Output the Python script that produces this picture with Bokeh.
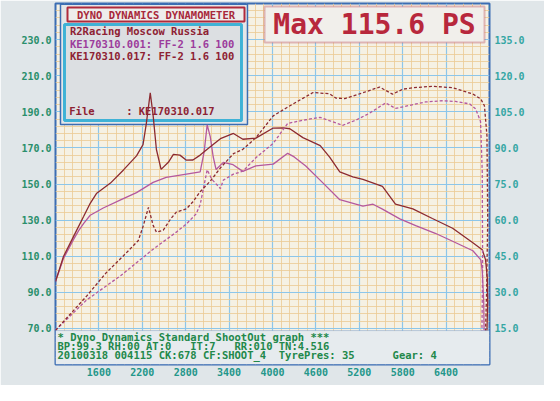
from bokeh.plotting import figure
from bokeh.models import Range1d, LinearAxis, FixedTicker, Label, BoxAnnotation, PrintfTickFormatter
from bokeh.embed import file_html
from bokeh.resources import INLINE

# ---------------- data ----------------
rpm_tq_017 = [1000, 1110, 1250, 1390, 1480, 1570, 1760, 1940, 2120, 2210, 2255, 2310, 2350, 2395, 2460,
              2560, 2630, 2720, 2810, 2900, 3000, 3140, 3280, 3460, 3590, 3770, 4010, 4150, 4240, 4420,
              4660, 4790, 4930, 5110, 5250, 5520, 5700, 5940, 6210, 6490, 6770, 6900, 6945, 6970, 6975, 6965]
tq_017 = [96.0, 109.8, 121.0, 132.1, 139.3, 144.9, 150.5, 157.8, 165.6, 171.8, 183.3, 200.5, 187.9, 169.1, 158.1,
          162.0, 166.4, 166.0, 163.2, 163.3, 166.0, 170.6, 175.1, 178.0, 174.8, 175.4, 181.0, 181.1, 180.6, 175.7,
          171.3, 164.9, 156.7, 154.0, 152.5, 148.7, 138.9, 136.2, 130.9, 125.5, 117.4, 113.6, 108.1, 98.0, 85.0, 68.5]

rpm_tq_001 = [1000, 1110, 1250, 1320, 1390, 1480, 1660, 1900, 2120, 2350, 2530, 2810, 3000, 3055, 3097,
              3140, 3180, 3220, 3320, 3455, 3590, 3770, 4010, 4210, 4300, 4460, 4700, 4930, 5250, 5390,
              5520, 5760, 5980, 6250, 6490, 6770, 6880, 6900, 6920, 6925]
tq_001 = [96.0, 108.7, 119.3, 124.2, 128.2, 132.7, 136.7, 141.2, 145.2, 150.9, 153.7, 155.5, 156.7, 167.8, 182.8,
          176.1, 165.1, 158.0, 162.0, 160.7, 157.0, 160.0, 161.0, 167.0, 165.0, 160.0, 150.5, 141.3, 137.7, 138.8,
          136.1, 130.7, 126.9, 122.7, 118.3, 113.0, 108.0, 102.0, 85.0, 68.5]

rpm_ps_017 = [1000, 1430, 1700, 1940, 2145, 2215, 2285, 2350, 2395, 2490, 2590, 2670, 2810, 2900, 3000,
              3140, 3280, 3460, 3590, 3770, 4010, 4190, 4420, 4560, 4790, 4875, 5000, 5250, 5480, 5660,
              5800, 5940, 6210, 6490, 6770, 6880, 6930, 6965, 6975, 6960, 6945]
ps_017 = [14.2, 28.4, 38.1, 45.2, 51.5, 57.8, 65.3, 57.8, 55.0, 55.8, 60.4, 63.3, 64.7, 67.6, 71.8,
          76.2, 81.7, 87.6, 89.4, 94.2, 103.3, 106.6, 110.6, 113.0, 112.5, 110.7, 110.5, 112.9, 115.3, 112.3,
          114.4, 115.0, 115.6, 115.0, 112.4, 110.3, 107.5, 95.0, 60.0, 30.0, 13.5]

rpm_ps_001 = [1000, 1430, 1900, 2350, 2670, 2810, 2945, 3000, 3097, 3160, 3280, 3320, 3460, 3590, 3770,
              4010, 4210, 4460, 4655, 4970, 5150, 5340, 5565, 5700, 6117, 6352, 6531, 6724, 6807, 6876,
              6900, 6905, 6895]
ps_001 = [14.2, 26.8, 36.9, 47.9, 55.0, 58.4, 62.6, 66.4, 80.9, 77.0, 73.1, 76.6, 79.1, 80.3, 85.9,
          91.9, 100.2, 101.7, 102.7, 99.4, 101.5, 104.4, 108.7, 106.4, 109.1, 109.6, 109.3, 108.3, 106.3, 101.0,
          80.0, 40.0, 13.5]

x_ticks = [1600, 2200, 2800, 3400, 4000, 4600, 5200, 5800, 6400]
nm_ticks = [70, 90, 110, 130, 150, 170, 190, 210, 230]
ps_ticks = [15, 30, 45, 60, 75, 90, 105, 120, 135]

title_text = "Max 115.6 PS"
header_text = "DYNO DYNAMICS DYNAMOMETER"
legend_lines = ["R2Racing Moscow Russia", "KE170310.001: FF-2 1.6 100", "KE170310.017: FF-2 1.6 100"]
file_line = "File     : KE170310.017"
footer_lines = ["* Dyno Dynamics Standard ShootOut graph ***",
                "BP:99.3 RH:00 AT:0   IT:7   RR:010 TN:4.516",
                "20100318 004115 CK:678 CF:SHOOT_4  TyrePres: 35      Gear: 4"]

# ---------------- styling ----------------
DARK = "#8c2a30"
PURP = "#b4589e"
GRID_MAJ = "#8cc6ea"
GRID_MIN = "#ebcb94"
FRAME = "#3b6db3"
MONO = "DejaVu Sans Mono"


def nb(s):
    return s.replace(" ", "\u00a0")


p = figure(width=544, height=385, output_backend="svg", toolbar_location=None,
           x_range=Range1d(1000, 7000), y_range=Range1d(50, 250),
           min_border_left=55, min_border_right=55, min_border_top=3, min_border_bottom=21)
p.extra_y_ranges = {"ps": Range1d(0, 150)}

p.background_fill_color = "#f5f1e4"
p.border_fill_color = "#e0e6e9"
p.outline_line_color = FRAME
p.outline_line_width = 2

# grids
xg = p.xgrid[0]
xg.ticker = FixedTicker(ticks=list(range(1000, 7001, 600)),
                        minor_ticks=[v for v in range(1000, 7001, 120) if (v - 1000) % 600 != 0])
xg.grid_line_color = GRID_MAJ
xg.grid_line_width = 1.2
xg.minor_grid_line_color = GRID_MIN
xg.minor_grid_line_width = 1
xg.minor_grid_line_alpha = 0.8
yg = p.ygrid[0]
yg.ticker = FixedTicker(ticks=list(range(50, 251, 20)),
                        minor_ticks=[v for v in range(50, 251, 4) if (v - 50) % 20 != 0])
yg.grid_line_color = GRID_MAJ
yg.grid_line_width = 1.2
yg.minor_grid_line_color = GRID_MIN
yg.minor_grid_line_width = 1
yg.minor_grid_line_alpha = 0.8

# axes
p.xaxis.ticker = FixedTicker(ticks=x_ticks)
p.xaxis.formatter = PrintfTickFormatter(format="%d")
p.yaxis.ticker = FixedTicker(ticks=nm_ticks)
p.yaxis.formatter = PrintfTickFormatter(format="%.1f")
right = LinearAxis(y_range_name="ps", ticker=FixedTicker(ticks=ps_ticks),
                   formatter=PrintfTickFormatter(format="%.1f"))
p.add_layout(right, "right")

for ax, col, so in [(p.xaxis[0], "#23968a", 3), (p.yaxis[0], "#2a8f6c", 4), (right, "#35a6a4", 5)]:
    ax.axis_line_color = None
    ax.major_tick_line_color = None
    ax.minor_tick_line_color = None
    ax.major_tick_out = 0
    ax.major_tick_in = 0
    ax.major_label_standoff = so
    ax.major_label_text_font = MONO
    ax.major_label_text_font_style = "bold"
    ax.major_label_text_font_size = "10px"
    ax.major_label_text_color = col

# legend block (top-left), drawn beneath the curves
p.quad(left=[1069], right=[3654], bottom=[183], top=[249.6],
       fill_color="#e4e6e8", line_color=FRAME, line_width=1.5)
p.quad(left=[1166], right=[3613], bottom=[240.0], top=[247.8],
       fill_color="#eeedeb", line_color="#b02a3c", line_width=2)
p.quad(left=[1124], right=[3571], bottom=[185.2], top=[238.4],
       fill_color="#dcdfe2", line_color="#3fb2d6", line_width=3)

# curves
p.line(rpm_tq_001, tq_001, line_color=PURP, line_width=1.3)
p.line(rpm_tq_017, tq_017, line_color=DARK, line_width=1.3)
p.line(rpm_ps_001, ps_001, y_range_name="ps", line_color=PURP, line_width=1.3, line_dash="3 2")
p.line(rpm_ps_017, ps_017, y_range_name="ps", line_color=DARK, line_width=1.3, line_dash="3 2")

p.add_layout(Label(x=2390, y=243.9, text=header_text, text_font=MONO, text_font_style="bold",
                   text_font_size="10.5px", text_color="#a8283a", text_align="center", text_baseline="middle"))
leg_cols = ["#8e2233", "#9c3c9c", "#8e2233"]
for i, t in enumerate(legend_lines):
    p.add_layout(Label(x=1200, y=234.5 - 6.9 * i, text=nb(t), text_font=MONO, text_font_style="bold",
                       text_font_size="10.5px", text_color=leg_cols[i], text_baseline="middle"))
p.add_layout(Label(x=1190, y=190.7, text=nb(file_line), text_font=MONO, text_font_style="bold",
                   text_font_size="10.5px", text_color="#8e2233", text_baseline="middle"))

# bottom info box
p.add_layout(BoxAnnotation(left=1000, right=7000, bottom=50, top=68.8,
                           fill_color="#e6ebee", fill_alpha=1, line_color=FRAME, line_width=1))
for i, t in enumerate(footer_lines):
    p.add_layout(Label(x=1028, y=65 - 5 * i, text=nb(t), text_font=MONO, text_font_style="bold",
                       text_font_size="10.5px", text_color="#22884a", text_baseline="middle"))

# max box
p.add_layout(BoxAnnotation(left=3890, right=6931, bottom=228.4, top=248.3,
                           fill_color="#f1efeb", fill_alpha=1, line_color="#b02a3c", line_width=2))
p.add_layout(Label(x=5410, y=238.4, text=title_text, text_font=MONO, text_font_style="bold",
                   text_font_size="28px", text_color="#b8283c", text_align="center", text_baseline="middle"))

# axis captions
p.add_layout(Label(x=820, y=247.2, text="S_Nm", text_font=MONO, text_font_style="bold",
                   text_font_size="10px", text_color="#2a8f6c", text_align="center", text_baseline="middle"))
p.add_layout(Label(x=7152, y=246.7, text="S_PS", text_font=MONO, text_font_style="bold",
                   text_font_size="10px", text_color="#35a6a4", text_align="center", text_baseline="middle"))
p.add_layout(Label(x=6848, y=45.2, text="RPM", text_font=MONO, text_font_style="bold",
                   text_font_size="10px", text_color="#23968a", text_align="center", text_baseline="middle"))

open("out.html", "w").write(file_html(p, INLINE))
